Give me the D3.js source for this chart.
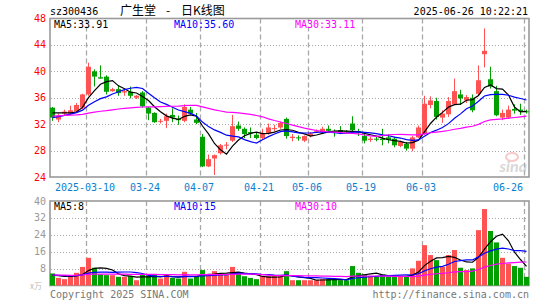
<!DOCTYPE html>
<html>
<head>
<meta charset="utf-8">
<script src="https://cdn.jsdelivr.net/npm/d3@7"></script>
<style>
body { margin: 0; background: #fff; }
svg { display: block; font-family: "DejaVu Sans Mono", monospace; }
</style>
</head>
<body>
<svg id="chart" width="545" height="300"></svg>
<script>
var dates = [
  '02-28',
  '03-03','03-04','03-05','03-06','03-07',
  '03-10','03-11','03-12','03-13','03-14',
  '03-17','03-18','03-19','03-20','03-21',
  '03-24','03-25','03-26','03-27','03-28',
  '03-31','04-01','04-02','04-03',
  '04-07','04-08','04-09','04-10','04-11',
  '04-14','04-15','04-16','04-17','04-18',
  '04-21','04-22','04-23','04-24','04-25',
  '04-28','04-29','04-30',
  '05-06','05-07','05-08','05-09',
  '05-12','05-13','05-14','05-15','05-16',
  '05-19','05-20','05-21','05-22','05-23',
  '05-26','05-27','05-28','05-29','05-30',
  '06-03','06-04','06-05','06-06',
  '06-09','06-10','06-11','06-12','06-13',
  '06-16','06-17','06-18','06-19','06-20',
  '06-23','06-24','06-25','06-26'
];

var opens = [34.5,32.7,33.6,33.6,33.9,34.5,36.5,40.0,39.1,39.2,
  37.0,37.3,36.8,36.9,36.0,36.8,34.5,33.7,32.4,32.5,
  33.4,32.8,32.5,34.2,32.7,30.1,25.6,26.8,27.6,28.8,
  29.5,31.8,31.3,30.8,30.4,29.9,30.6,31.3,31.5,32.8,
  29.9,30.0,29.5,30.2,30.9,30.8,31.3,30.9,31.1,30.9,
  32.1,30.9,30.2,29.6,29.8,29.8,30.0,29.8,28.7,29.0,
  28.3,30.0,30.5,34.9,35.5,33.0,33.5,35.0,36.5,35.6,
  36.0,36.6,42.6,38.8,37.0,33.0,33.0,34.3,34.2,33.95];

var highs = [34.6,33.6,34.2,34.8,35.2,36.6,41.3,40.3,40.9,39.4,
  37.5,37.9,37.2,37.7,36.4,37.0,34.6,33.8,32.8,33.6,
  34.4,33.3,35.0,34.6,33.7,30.5,27.4,27.4,29.0,29.3,
  33.4,32.4,31.5,31.5,30.7,31.3,32.1,31.9,32.4,33.0,
  30.5,30.3,30.3,30.8,31.2,31.6,31.8,31.2,31.7,31.1,
  33.2,31.3,30.6,30.1,30.1,31.3,30.5,30.1,29.5,29.3,
  30.2,31.8,36.3,36.2,36.0,34.1,36.1,38.9,37.2,36.4,
  36.5,40.9,46.5,40.7,37.8,34.2,34.8,35.0,35.1,34.2];

var lows = [32.5,32.3,33.3,33.4,33.7,34.3,36.3,37.7,38.9,36.5,
  36.9,36.3,36.3,35.9,35.8,34.5,32.6,32.2,32.1,31.4,
  32.3,31.9,32.3,33.5,32.0,25.5,25.5,24.3,27.4,28.2,
  29.3,31.0,29.9,29.9,29.7,29.7,30.4,30.9,31.3,29.8,
  29.4,29.5,29.3,30.0,30.8,30.7,30.7,30.1,30.5,30.6,
  30.9,30.2,29.1,29.3,29.4,28.8,29.1,28.5,28.5,28.0,
  27.9,29.9,30.4,34.4,32.7,32.2,33.1,34.9,34.9,35.2,
  33.8,36.4,40.6,37.4,33.2,32.6,32.8,33.6,33.4,33.6];

var closes = [33.0,33.3,33.9,34.1,34.9,36.5,40.7,39.2,38.9,36.9,
  37.3,36.7,37.0,36.3,36.3,34.7,33.6,32.3,32.5,33.2,
  33.0,32.6,34.6,33.6,32.2,25.6,26.7,27.3,28.8,28.9,
  31.7,31.3,30.5,30.6,29.9,30.6,31.5,31.4,32.2,30.2,
  30.1,29.9,30.2,30.6,31.0,31.3,31.0,30.8,30.8,30.8,
  31.1,30.8,29.5,29.8,29.7,29.6,29.6,28.8,29.3,28.3,
  30.0,31.5,35.1,35.6,33.1,33.6,35.5,37.0,35.9,36.1,
  34.1,38.65,43.1,37.7,33.35,33.7,34.2,34.05,33.95,33.85];

// volume in 10k lots
var volumes = [5.7,3.6,3.0,4.4,6.0,8.8,13.1,8.4,5.3,4.9,
  4.9,4.1,4.1,4.4,2.5,5.2,4.4,4.9,3.3,4.9,
  3.6,3.3,6.5,3.3,4.4,7.3,4.9,6.8,5.2,4.9,
  8.8,6.0,4.4,3.6,3.0,4.4,4.4,4.4,4.4,6.8,
  2.5,2.5,2.5,2.5,2.5,3.0,3.0,3.0,2.5,2.5,
  9.2,6.0,5.2,4.4,4.4,5.2,4.1,4.1,4.1,4.1,
  8.1,11.7,19.1,14.4,12.0,8.8,14.4,16.8,8.4,7.3,
  8.1,26.2,36.2,25.8,20.4,13.1,10.4,9.2,8.4,4.1];

// days before the window, guessed back from where the MA lines start
var priorCloses = [31.8,32.4,33.0,33.6,34.2,34.8,35.1,34.6,34.0,33.5,
  33.2,33.8,34.4,33.9,33.1,32.6,32.3,32.0,32.2,32.1,
  31.9,32.0,32.3,32.5,32.8,33.3,33.8,34.2,34.2];
var priorVolumes = [5.2,4.6,5.8,4.9,4.3,5.5,5.0,4.4,5.6,4.8,
  5.1,4.5,5.3,4.7,5.4,4.6,5.0,4.8,5.2,4.9,
  5.4,4.8,5.2,5.0,4.9,4.6,4.9,4.5,4.8];

var priceTicks = [48, 44, 40, 36, 32, 28, 24];
var volTicks = [40, 32, 24, 16, 8];
var labelDates = ['03-10','03-24','04-07','04-21','05-06','05-19','06-03','06-26'];
var labelTexts = ['2025-03-10','03-24','04-07','04-21','05-06','05-19','06-03','06-26'];

var maPeriods = [5, 10, 30];
var maColors = ['#000', '#00f', '#f0f'];
var priceMaLabels = ['MA5:33.91', 'MA10:35.60', 'MA30:33.11'];
var volMaLabels = ['MA5:8', 'MA10:15', 'MA30:10'];

var RED = '#ff5252';
var GREEN = '#00a000';
var GRID = '#a8a8a8';

// SCALES
var svg = d3.select('#chart');
var x = d3.scaleBand().domain(dates).range([50, 529]).paddingInner(1 / 6).paddingOuter(0);
var yP = d3.scaleLinear().domain([24, 48]).range([177, 18.5]);
var yV = d3.scaleLinear().domain([0, 40]).range([285.5, 201]);
var bw = x.bandwidth();

function movingAvg(prior, values, n) {
  var all = prior.concat(values);
  var out = [];
  for (var i = 0; i < values.length; i++) {
    var end = prior.length + i;
    out.push(d3.mean(all.slice(end - n + 1, end + 1)));
  }
  return out;
}

function isUp(i) {
  return closes[i] >= opens[i];
}

// HEADER
svg.append('text').attr('x', 50).attr('y', 15).attr('font-size', 10).text('sz300436');
var title = svg.append('text').attr('y', 15).attr('font-size', 12)
  .attr('font-family', '"Noto Sans CJK SC", sans-serif');
title.append('tspan').attr('x', 120).text('广生堂');
title.append('tspan').attr('x', 166).text('-');
title.append('tspan').attr('x', 181).text('日K线图');
svg.append('text').attr('x', 528).attr('y', 15).attr('font-size', 10)
  .attr('text-anchor', 'end').text('2025-06-26 10:22:21');

// GRIDS
function drawPanel(yScale, ticks, top, bottom) {
  var g = svg.append('g');
  g.selectAll('line.h').data(ticks.filter(function(t) {
    return yScale(t) > top + 2 && yScale(t) < bottom - 2;
  })).enter().append('line')
    .attr('x1', 51).attr('x2', 528)
    .attr('y1', function(d) { return Math.round(yScale(d)) + 0.5; })
    .attr('y2', function(d) { return Math.round(yScale(d)) + 0.5; })
    .attr('stroke', GRID).attr('stroke-dasharray', '1,2');
  g.selectAll('line.v').data(labelDates).enter().append('line')
    .attr('x1', function(d) { return x(d) + 0.5; })
    .attr('x2', function(d) { return x(d) + 0.5; })
    .attr('y1', top).attr('y2', bottom)
    .attr('stroke', GRID).attr('stroke-width', 1.3).attr('stroke-dasharray', '5,3');
  g.append('rect').attr('x', 50).attr('y', top).attr('width', 479).attr('height', bottom - top)
    .attr('fill', 'none').attr('stroke', '#9a9a9a').attr('stroke-width', 1.6);
}
drawPanel(yP, priceTicks, 18.5, 177);
drawPanel(yV, volTicks, 201, 285.5);

// axis labels
svg.selectAll('text.py').data(priceTicks).enter().append('text')
  .attr('x', 46).attr('y', function(d) { return yP(d); })
  .attr('dy', '0.35em').attr('text-anchor', 'end').attr('font-size', 10)
  .attr('fill', '#f00').text(function(d) { return d; });
svg.selectAll('text.vy').data(volTicks).enter().append('text')
  .attr('x', 46).attr('y', function(d) { return yV(d); })
  .attr('dy', '0.35em').attr('text-anchor', 'end').attr('font-size', 10)
  .attr('fill', '#999').text(function(d) { return d; });
svg.append('text').attr('x', 30).attr('y', 289).attr('font-size', 8)
  .attr('fill', '#bbb').attr('font-family', '"Noto Sans CJK SC", sans-serif').text('x万');

svg.selectAll('text.xl').data(labelDates).enter().append('text')
  .attr('x', function(d, i) {
    var half = labelTexts[i].length * 3;
    return Math.min(x(d) - 1, 523 - half);
  })
  .attr('y', 191).attr('text-anchor', 'middle').attr('font-size', 10)
  .attr('fill', '#0a7fd0').text(function(d, i) { return labelTexts[i]; });

// sina watermark
var mark = svg.append('g').attr('opacity', 0.55);
mark.append('ellipse').attr('cx', 512).attr('cy', 157).attr('rx', 6).attr('ry', 4)
  .attr('fill', 'none').attr('stroke', '#f2a0a0').attr('stroke-width', 2);
mark.append('text').attr('x', 527).attr('y', 172).attr('text-anchor', 'end')
  .attr('font-family', 'Lato, sans-serif').attr('font-weight', 'bold').attr('font-style', 'italic')
  .attr('font-size', 16).attr('fill', '#b8b8b8').text('sina');

// CANDLES
var candles = svg.append('g').selectAll('g').data(dates).enter().append('g');
candles.append('line')
  .attr('x1', function(d) { return x(d) + bw / 2; })
  .attr('x2', function(d) { return x(d) + bw / 2; })
  .attr('y1', function(d, i) { return yP(highs[i]); })
  .attr('y2', function(d, i) { return yP(lows[i]); })
  .attr('stroke', function(d, i) { return isUp(i) ? RED : GREEN; });
candles.append('rect')
  .attr('x', function(d) { return x(d); })
  .attr('width', bw)
  .attr('y', function(d, i) { return yP(Math.max(opens[i], closes[i])); })
  .attr('height', function(d, i) { return Math.max(1, Math.abs(yP(opens[i]) - yP(closes[i]))); })
  .attr('fill', function(d, i) { return isUp(i) ? RED : GREEN; });

// VOLUME BARS
svg.append('g').selectAll('rect').data(volumes).enter().append('rect')
  .attr('x', function(d, i) { return x(dates[i]); })
  .attr('width', bw)
  .attr('y', function(d) { return yV(d); })
  .attr('height', function(d) { return yV(0) - yV(d); })
  .attr('fill', function(d, i) { return isUp(i) ? RED : GREEN; });

// MA LINES
function drawMa(yScale, prior, values) {
  maPeriods.forEach(function(n, k) {
    var ma = movingAvg(prior, values, n);
    var line = d3.line()
      .x(function(d, i) { return x(dates[i]) + bw / 2; })
      .y(function(d) { return yScale(d); });
    svg.append('path').datum(ma).attr('d', line)
      .attr('fill', 'none').attr('stroke', maColors[k]).attr('stroke-width', 1.2);
  });
}
drawMa(yP, priorCloses, closes);
drawMa(yV, priorVolumes, volumes);

// MA legends
var legendX = [54, 174, 295];
svg.selectAll('text.pma').data(priceMaLabels).enter().append('text')
  .attr('x', function(d, i) { return legendX[i]; }).attr('y', 28)
  .attr('font-size', 10).attr('fill', function(d, i) { return maColors[i]; })
  .text(function(d) { return d; });
svg.selectAll('text.vma').data(volMaLabels).enter().append('text')
  .attr('x', function(d, i) { return legendX[i]; }).attr('y', 210)
  .attr('font-size', 10).attr('fill', function(d, i) { return maColors[i]; })
  .text(function(d) { return d; });

// FOOTER
svg.append('text').attr('x', 50).attr('y', 298).attr('font-size', 10)
  .attr('fill', '#777').text('Copyright 2025 SINA.COM');
svg.append('text').attr('x', 529).attr('y', 298).attr('font-size', 10)
  .attr('text-anchor', 'end').attr('fill', '#777').text('http://finance.sina.com.cn');
</script>
</body>
</html>
